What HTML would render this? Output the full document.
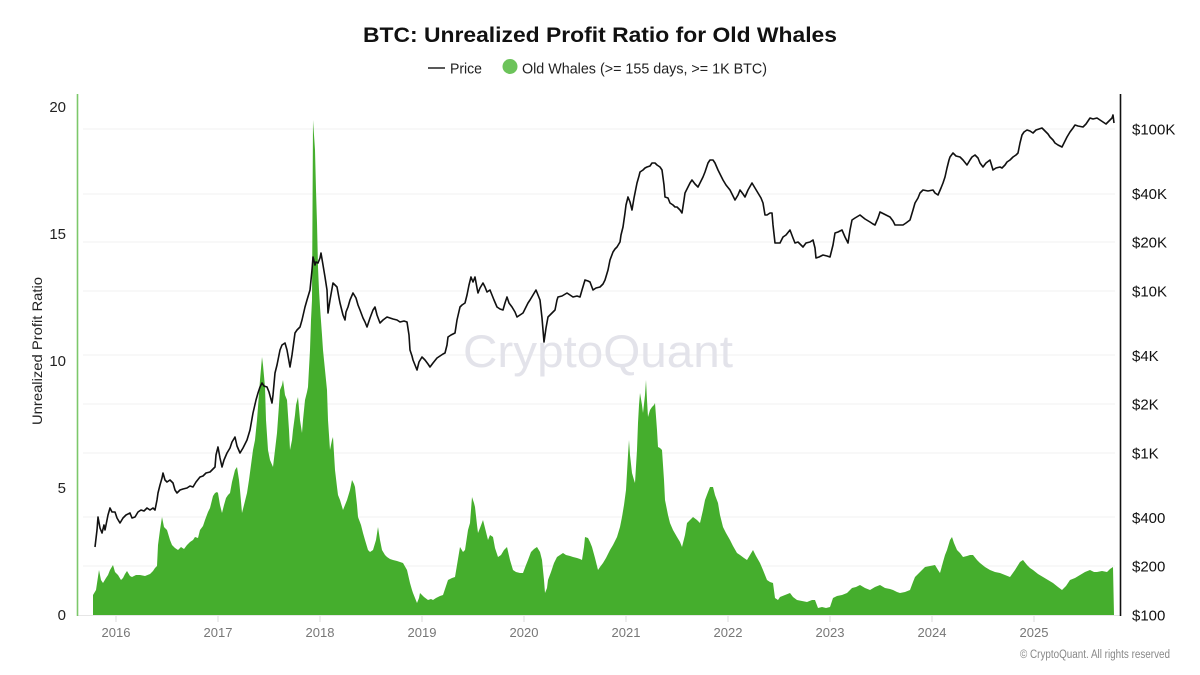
<!DOCTYPE html>
<html>
<head>
<meta charset="utf-8">
<style>
html,body{margin:0;padding:0;background:#fff;}
svg{display:block;font-family:"Liberation Sans",sans-serif;}
</style>
</head>
<body>
<svg width="1200" height="675" viewBox="0 0 1200 675" xmlns="http://www.w3.org/2000/svg">
<rect width="1200" height="675" fill="#fff"/>
<!-- title -->
<text x="600" y="42" text-anchor="middle" font-size="21.5" font-weight="bold" fill="#111" textLength="474" lengthAdjust="spacingAndGlyphs">BTC: Unrealized Profit Ratio for Old Whales</text>
<!-- legend -->
<line x1="428" y1="68" x2="445" y2="68" stroke="#222" stroke-width="1.6"/>
<text x="450" y="73.5" font-size="14.5" fill="#222" textLength="32" lengthAdjust="spacingAndGlyphs">Price</text>
<circle cx="510" cy="66.5" r="7.5" fill="#6cc35a"/>
<text x="522" y="73.5" font-size="14.5" fill="#222" textLength="245" lengthAdjust="spacingAndGlyphs">Old Whales (&gt;= 155 days, &gt;= 1K BTC)</text>

<!-- gridlines -->
<g stroke="#f1f1f1" stroke-width="1">
<line x1="83" y1="129" x2="1115" y2="129"/>
<line x1="83" y1="194" x2="1115" y2="194"/>
<line x1="83" y1="242" x2="1115" y2="242"/>
<line x1="83" y1="291" x2="1115" y2="291"/>
<line x1="83" y1="355" x2="1115" y2="355"/>
<line x1="83" y1="404" x2="1115" y2="404"/>
<line x1="83" y1="453" x2="1115" y2="453"/>
<line x1="83" y1="517" x2="1115" y2="517"/>
<line x1="83" y1="566" x2="1115" y2="566"/>
</g>

<!-- watermark -->
<text x="598" y="367" text-anchor="middle" font-size="45" fill="#e3e3ea" textLength="270" lengthAdjust="spacingAndGlyphs">CryptoQuant</text>

<!-- green area -->
<path fill="#45ae2d" d="M93,615 L93,595 96,590 99,570 101,580 103,583 106,578 108,575 110,570 113,565 115,572 118,575 121,580 123,578 125,574 127,571 130,576 132,577 136,575 140,575 145,576 150,574 153,571 155,568 157,566 158,545 160,530 162,517 164,527 167,530 170,540 172,545 175,548 178,550 181,547 184,549 187,545 190,542 193,540 195,537 198,538 200,530 203,526 205,520 208,512 210,508 213,496 215,493 217,492 218,493 220,505 222,513 224,505 226,498 228,495 230,493 232,482 235,470 237,467 239,480 240,490 242,513 244,505 247,493 249,480 251,465 253,450 255,440 257,420 258,407 260,380 262,357 263,365 265,387 266,420 268,450 270,460 273,467 275,450 277,433 279,405 280,390 282,385 283,380 285,395 287,400 289,430 290,450 292,440 293,430 295,415 296,405 298,397 300,420 302,433 303,420 305,400 307,392 308,387 310,350 311,320 312,300 313,120 314,135 315,150 316,190 317,223 318,267 319,290 320,307 322,335 323,350 325,370 327,390 328,420 330,450 332,440 333,437 335,470 337,487 338,495 340,500 343,510 345,505 347,500 350,490 352,480 354,484 355,487 357,505 358,517 361,525 363,533 365,540 368,550 370,552 373,550 376,540 378,527 380,540 382,550 385,555 387,557 390,559 393,560 397,561 400,562 403,563 407,570 410,583 412,590 413,593 415,598 417,603 419,598 420,593 424,597 428,600 431,599 433,600 436,598 440,596 443,595 446,586 448,580 452,578 455,577 457,565 460,547 463,552 465,550 468,530 470,523 472,497 474,503 475,507 477,525 478,533 480,528 483,520 485,528 488,540 490,535 493,537 495,548 498,557 501,555 504,550 507,547 510,560 513,570 516,572 520,573 523,573 526,565 528,560 531,552 534,549 537,547 540,552 542,560 544,580 545,593 547,588 548,580 551,572 554,563 557,557 560,555 563,553 566,555 570,556 573,557 577,558 580,559 582,560 584,547 585,537 588,538 590,542 592,547 595,558 598,570 600,567 603,563 606,558 610,550 613,545 617,537 620,527 622,517 624,505 626,490 627,473 628,455 629,440 630,455 632,473 634,480 635,483 637,450 638,423 639,405 640,393 642,405 643,413 645,395 646,380 647,400 648,417 650,410 652,407 654,405 655,403 657,430 658,447 660,448 662,450 664,480 665,500 668,515 670,523 673,530 677,537 680,542 682,547 685,535 687,523 690,520 693,517 697,520 700,523 703,510 705,500 708,492 710,487 713,487 715,495 718,503 720,515 723,527 726,533 730,540 733,546 737,553 740,555 744,558 747,560 750,555 753,550 756,556 760,563 763,570 767,580 770,582 773,583 775,598 778,600 780,597 785,595 790,593 793,597 797,600 802,601 807,602 812,600 815,600 818,608 822,607 826,608 830,607 833,598 837,596 842,595 847,593 852,588 856,587 860,585 865,588 870,590 875,587 880,585 885,588 890,589 893,590 897,592 900,593 905,592 910,590 913,582 915,577 920,572 925,567 930,566 935,565 938,570 940,573 943,562 945,555 947,550 950,540 952,537 954,543 957,550 960,553 963,557 967,556 970,555 973,555 977,560 980,563 985,567 990,570 995,572 1000,573 1005,575 1010,577 1015,570 1020,562 1023,560 1027,565 1030,568 1033,570 1038,574 1043,577 1048,580 1053,583 1058,587 1062,590 1066,586 1070,580 1075,578 1080,575 1085,572 1090,570 1094,572 1097,572 1102,571 1107,572 1110,569 1113,567 1114,615 Z"/>

<!-- baseline & ticks -->
<line x1="78" y1="615.5" x2="1120" y2="615.5" stroke="#e6e6e6" stroke-width="1"/>
<g stroke="#dddddd" stroke-width="1">
<line x1="116" y1="616" x2="116" y2="622"/>
<line x1="218" y1="616" x2="218" y2="622"/>
<line x1="320" y1="616" x2="320" y2="622"/>
<line x1="422" y1="616" x2="422" y2="622"/>
<line x1="524" y1="616" x2="524" y2="622"/>
<line x1="626" y1="616" x2="626" y2="622"/>
<line x1="728" y1="616" x2="728" y2="622"/>
<line x1="830" y1="616" x2="830" y2="622"/>
<line x1="932" y1="616" x2="932" y2="622"/>
<line x1="1034" y1="616" x2="1034" y2="622"/>
</g>

<!-- price line -->
<polyline fill="none" stroke="#111" stroke-width="1.6" stroke-linejoin="round" points="95,547 97,530 98,517 100,528 102,533 104,525 105,530 108,515 110,508 112,512 115,512 117,518 120,523 123,518 126,515 130,513 132,518 135,517 138,512 141,510 144,511 147,508 150,510 153,508 155,510 157,500 158,493 160,485 162,478 163,473 165,480 167,482 170,480 173,483 175,490 177,493 180,490 183,489 187,488 190,486 193,487 196,482 200,477 203,476 206,473 210,472 213,469 215,467 216,455 218,447 220,458 222,467 224,460 227,453 230,448 232,442 235,437 237,446 240,453 243,448 247,440 250,430 253,413 256,400 258,393 260,387 262,383 264,386 267,387 269,392 272,403 273,395 275,373 277,365 280,350 282,345 285,343 287,350 290,367 292,355 295,333 297,330 300,327 302,320 305,307 307,300 310,290 312,270 313,257 315,265 316,262 318,263 320,258 321,253 323,265 325,277 327,290 328,313 330,300 333,283 335,285 337,287 339,298 340,303 343,315 345,320 346,312 348,307 350,300 353,293 356,298 358,305 360,310 363,318 365,322 367,327 370,318 373,310 375,307 377,315 380,323 383,320 387,317 390,318 393,319 397,320 400,322 404,321 407,322 409,335 410,350 412,356 413,360 415,365 417,370 419,362 422,357 425,360 428,364 430,367 433,363 437,358 440,356 443,354 445,353 447,345 448,337 451,335 455,333 457,320 460,307 462,305 465,303 467,295 469,285 471,277 473,282 475,277 477,288 478,293 480,288 483,283 485,287 487,292 490,290 492,295 494,300 497,307 500,309 503,310 505,303 507,297 509,303 512,307 515,312 517,317 520,315 523,313 526,307 528,303 530,300 533,295 536,290 538,295 540,300 542,318 544,342 546,328 548,317 551,314 555,310 557,300 558,297 562,296 567,293 570,295 573,297 577,296 580,297 582,290 585,280 588,281 590,282 593,290 596,288 600,287 603,284 605,280 608,270 610,260 613,252 615,249 617,247 620,242 621,235 623,227 625,213 626,205 628,197 630,202 632,210 634,198 637,183 639,176 640,172 643,170 645,168 647,167 650,166 652,163 655,163 657,165 660,167 662,170 664,185 665,197 668,198 670,203 673,205 675,207 677,207 680,210 682,213 684,200 685,193 688,187 690,183 692,180 695,184 698,187 700,183 703,177 705,172 708,163 710,160 713,160 715,163 718,170 721,176 723,180 726,185 730,190 733,196 735,200 738,195 740,190 743,194 745,197 748,190 752,183 755,188 758,193 761,198 763,203 765,215 767,215 770,213 772,213 773,225 775,243 778,243 780,243 783,237 786,235 790,230 793,238 795,243 798,242 803,247 806,243 810,242 813,240 815,248 816,258 819,257 823,255 827,256 830,257 833,245 835,233 838,232 842,230 845,237 848,243 850,230 852,220 855,218 860,215 865,219 870,222 873,224 875,225 878,218 880,212 884,214 890,217 893,221 895,225 900,225 903,225 906,223 910,220 913,210 915,203 918,198 920,193 923,190 928,191 933,190 935,193 938,195 941,188 943,183 945,177 947,168 949,160 950,157 953,153 956,156 960,157 963,160 967,165 970,160 972,157 975,155 978,158 980,163 983,167 986,163 990,160 993,170 996,168 1000,167 1002,168 1005,165 1007,162 1010,160 1013,157 1016,155 1018,153 1020,143 1022,135 1024,132 1027,130 1030,131 1033,133 1036,130 1039,129 1042,128 1045,131 1048,134 1050,137 1053,140 1055,143 1058,145 1062,147 1064,143 1067,137 1070,132 1073,128 1075,125 1078,126 1083,127 1086,124 1090,118 1093,119 1097,118 1100,120 1103,122 1106,124 1108,122 1110,120 1112,118 1113,115 1114,123"/>

<!-- axes lines -->
<line x1="77.5" y1="94" x2="77.5" y2="616" stroke="#7cc86a" stroke-width="1.6"/>
<line x1="1120.5" y1="94" x2="1120.5" y2="616" stroke="#111" stroke-width="1.6"/>

<!-- left axis labels -->
<g font-size="15" fill="#222" text-anchor="end">
<text x="66" y="112">20</text>
<text x="66" y="239">15</text>
<text x="66" y="366">10</text>
<text x="66" y="493">5</text>
<text x="66" y="620">0</text>
</g>
<text transform="translate(42,351) rotate(-90)" text-anchor="middle" font-size="14" fill="#222" textLength="148" lengthAdjust="spacingAndGlyphs">Unrealized Profit Ratio</text>

<!-- right axis labels -->
<g font-size="15" fill="#111">
<text x="1132" y="134.5">$100K</text>
<text x="1132" y="199">$40K</text>
<text x="1132" y="247.5">$20K</text>
<text x="1132" y="296.5">$10K</text>
<text x="1132" y="361">$4K</text>
<text x="1132" y="409.5">$2K</text>
<text x="1132" y="458.5">$1K</text>
<text x="1132" y="523">$400</text>
<text x="1132" y="571.5">$200</text>
<text x="1132" y="620.5">$100</text>
</g>

<!-- x axis labels -->
<g font-size="13" fill="#777" text-anchor="middle">
<text x="116" y="637">2016</text>
<text x="218" y="637">2017</text>
<text x="320" y="637">2018</text>
<text x="422" y="637">2019</text>
<text x="524" y="637">2020</text>
<text x="626" y="637">2021</text>
<text x="728" y="637">2022</text>
<text x="830" y="637">2023</text>
<text x="932" y="637">2024</text>
<text x="1034" y="637">2025</text>
</g>

<text x="1170" y="658" text-anchor="end" font-size="11.5" fill="#888" textLength="150" lengthAdjust="spacingAndGlyphs">© CryptoQuant. All rights reserved</text>
</svg>
</body>
</html>
